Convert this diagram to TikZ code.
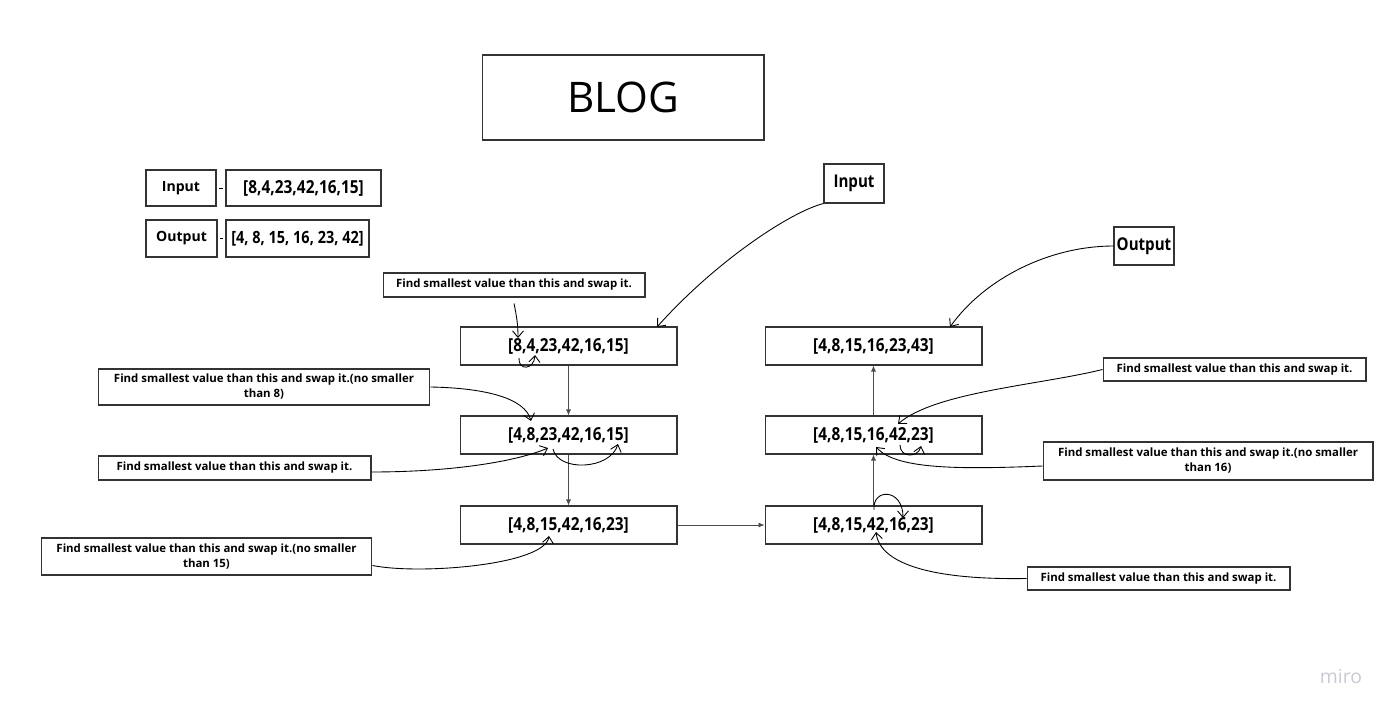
\documentclass[tikz,border=0pt]{standalone}
\usepackage{fontspec}
\setmainfont{Open Sans}
\newfontfamily\arrfont{Open Sans}[FakeStretch=0.86]
\usetikzlibrary{arrows.meta}
\definecolor{boxgray}{HTML}{333333}
\definecolor{mirogray}{HTML}{C9CAD3}
\tikzset{
  box/.style={draw=boxgray,line width=0.6pt,inner sep=0pt,align=center},
  arr/.style={box,minimum width=4.34cm,minimum height=0.76cm,
    font=\arrfont\bfseries\fontsize{10.2}{12}\selectfont},
  note/.style={box,font=\bfseries\fontsize{6.5}{8.5}\selectfont},
  flow/.style={draw=black!70,line width=0.4pt,-{Latex[length=1.2mm,width=1mm]}},
  hand/.style={line width=0.5pt,-{Straight Barb[length=1.3mm,width=2.2mm]}}
}
\begin{document}
\begin{tikzpicture}[x=0.02cm,y=-0.02cm]
\fill[white] (0,0) rectangle (1396,715);
\useasboundingbox (0,0) rectangle (1396,715);
% title
\node[box,minimum width=5.64cm,minimum height=1.7cm,font=\fontsize{24}{28}\selectfont] (blog) at (623,97.5) {BLOG};
%
% input / output legend
%
\node[box,minimum width=1.4cm,minimum height=0.72cm,font=\bfseries\fontsize{8}{10}\selectfont] (inL) at (181,188) {Input};
\node[box,minimum width=3.1cm,minimum height=0.72cm,font=\arrfont\bfseries\fontsize{10.2}{12}\selectfont] (inArr) at (303.5,188) {[8,4,23,42,16,15]};
\node[box,minimum width=1.42cm,minimum height=0.74cm,font=\bfseries\fontsize{8}{10}\selectfont] (outL) at (181.5,238.5) {Output};
\node[box,minimum width=2.86cm,minimum height=0.74cm,font=\arrfont\bfseries\fontsize{9.6}{11}\selectfont] (outArr) at (297.5,238.5) {[4, 8, 15, 16, 23, 42]};
\draw[line width=0.4pt,shorten <=0.05cm,shorten >=0.05cm] (inL.east) -- (inArr.west);
\draw[line width=0.4pt,shorten <=0.05cm,shorten >=0.05cm] (outL.east) -- (outArr.west);
%
% left column
%
\node[arr] (a1) at (568.5,346) {[8,4,23,42,16,15]};
\node[arr] (a2) at (568.5,435) {[4,8,23,42,16,15]};
\node[arr] (a3) at (568.5,525) {[4,8,15,42,16,23]};
%
% right column
%
\node[arr] (b1) at (873.5,346) {[4,8,15,16,23,43]};
\node[arr] (b2) at (873.5,435) {[4,8,15,16,42,23]};
\node[arr] (b3) at (873.5,525) {[4,8,15,42,16,23]};
\node[box,minimum width=1.2cm,minimum height=0.78cm,font=\arrfont\bfseries\fontsize{10}{12}\selectfont] (inR) at (854,183.5) {Input};
\node[box,minimum width=1.2cm,minimum height=0.76cm,font=\arrfont\bfseries\fontsize{10}{12}\selectfont] (outR) at (1144,246) {Output};
%
% notes
%
\node[note,minimum width=5.24cm,minimum height=0.48cm] (noteA) at (514,285) {Find smallest value than this and swap it.};
\node[note,minimum width=6.64cm,minimum height=0.72cm] (noteB) at (264,387) {Find smallest value than this and swap it.(no smaller\\than 8)};
\node[note,minimum width=5.46cm,minimum height=0.48cm] (noteC) at (234.5,468) {Find smallest value than this and swap it.};
\node[note,minimum width=6.62cm,minimum height=0.74cm] (noteD) at (206.5,556.5) {Find smallest value than this and swap it.(no smaller\\than 15)};
\node[note,minimum width=5.26cm,minimum height=0.46cm] (noteE) at (1234.5,369.5) {Find smallest value than this and swap it.};
\node[note,minimum width=6.6cm,minimum height=0.76cm] (noteF) at (1208,461) {Find smallest value than this and swap it.(no smaller\\than 16)};
\node[note,minimum width=5.26cm,minimum height=0.46cm] (noteG) at (1158.5,578.5) {Find smallest value than this and swap it.};
\node[text=mirogray,font=\fontsize{11}{13}\selectfont] (miro) at (1341,677) {miro};
%
% flow between arrays
%
\draw[flow] (a1.south) -- (a2.north);
\draw[flow] (a2.south) -- (a3.north);
\draw[flow] (a3.east) -- (b3.west);
\draw[flow] (b3.north) -- (b2.south);
\draw[flow] (b2.north) -- (b1.south);
%
% hand drawn pointers
%
\coordinate (tipA) at (518,338);
\coordinate (tipB) at (531,421);
\coordinate (tipC) at (548,448);
\coordinate (tipD) at (549,536);
\coordinate (tipE) at (898,424);
\coordinate (tipF) at (876,447);
\coordinate (tipG) at (876,532);
\coordinate (tipIn) at (657,327);
\coordinate (tipOut) at (950,327);
\draw[hand] (inR.south west) .. controls (790,212) and (715,262) .. (tipIn);
\draw[hand] (outR.west) .. controls (1050,246) and (985,278) .. (tipOut);
\draw[hand] ([yshift=-0.12cm]noteA.south) .. controls (517,318) and (518,326) .. (tipA);
\draw[hand] (noteB.east) .. controls (485,388) and (525,398) .. (tipB);
\draw[hand] ([yshift=-0.08cm]noteC.east) .. controls (450,472) and (515,462) .. (tipC);
\draw[hand] ([yshift=-0.18cm]noteD.east) .. controls (420,575) and (545,565) .. (tipD);
\draw[hand] (noteE.west) .. controls (1040,385) and (935,392) .. (tipE);
\draw[hand] ([yshift=-0.1cm]noteF.west) .. controls (950,470) and (895,468) .. (tipF);
\draw[hand] (noteG.west) .. controls (935,580) and (880,565) .. (tipG);
%
% swap marks
%
\coordinate (swA1) at (519,358);
\coordinate (swA2) at (535,355);
\coordinate (swB1) at (553,449);
\coordinate (swB2) at (618,444);
\coordinate (swC1) at (874,510);
\coordinate (swC2) at (903,518);
\coordinate (swD1) at (900,445);
\coordinate (swD2) at (921,446);
\draw[hand] (swA1) .. controls (518,371) and (534,370) .. (swA2);
\draw[hand] (swB1) .. controls (558,472) and (610,470) .. (swB2);
\draw[hand] (swC1) .. controls (872,488) and (903,488) .. (swC2);
\draw[hand] (swD1) .. controls (900,458) and (918,458) .. (swD2);
\end{tikzpicture}
\end{document}
